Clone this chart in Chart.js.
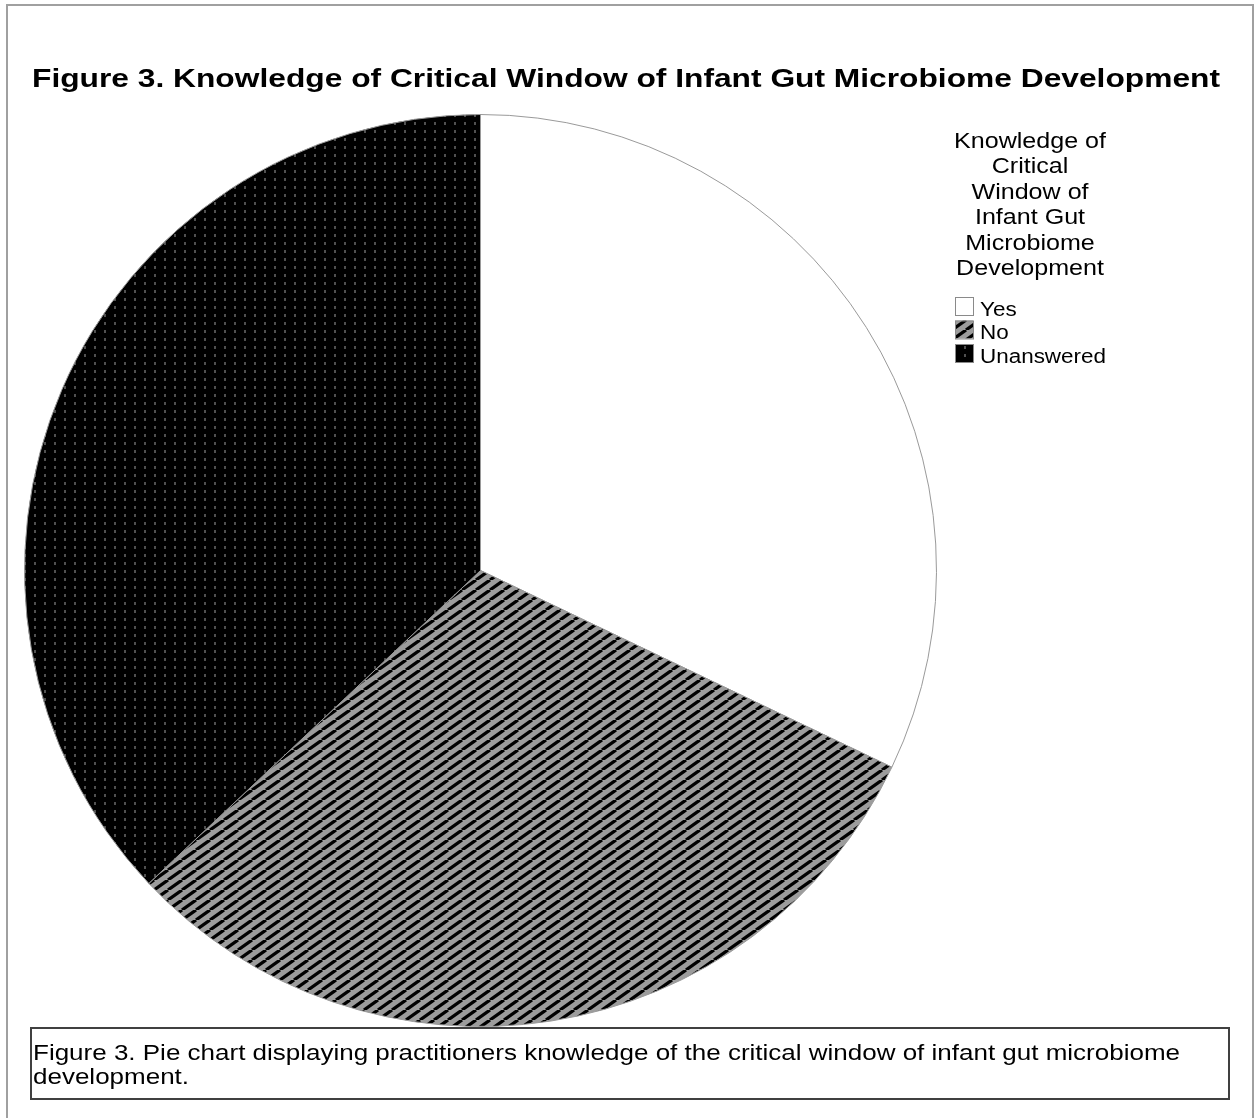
<!DOCTYPE html>
<html>
<head>
<meta charset="utf-8">
<title>Figure 3</title>
<script src="https://cdn.jsdelivr.net/npm/chart.js@4/dist/chart.umd.min.js"></script>
<style>
  html, body { margin: 0; padding: 0; background: #fff; overflow: hidden; }
  canvas { display: block; }
</style>
</head>
<body>
<canvas id="c" width="1259" height="1118"></canvas>
<script>
// ---- chart content ----
const chartTitle = 'Figure 3. Knowledge of Critical Window of Infant Gut Microbiome Development';
const legendTitleLines = ['Knowledge of', 'Critical', 'Window of', 'Infant Gut', 'Microbiome', 'Development'];
const categories = ['Yes', 'No', 'Unanswered'];
const respondents = [26, 25, 30];
const captionLines = [
  'Figure 3. Pie chart displaying practitioners knowledge of the critical window of infant gut microbiome',
  'development.'
];

const FONT = '"Liberation Sans", Arial, Helvetica, sans-serif';

// ---- fill patterns ----
function stripePattern(ctx) {
  const w = 14, h = 10;
  const t = document.createElement('canvas');
  t.width = w; t.height = h;
  const g = t.getContext('2d');
  g.fillStyle = '#9c9c9c';
  g.fillRect(0, 0, w, h);
  g.strokeStyle = '#000';
  g.lineWidth = 3.2;
  for (const x0 of [-w, 0, w]) {
    g.beginPath();
    g.moveTo(x0, h);
    g.lineTo(x0 + w, 0);
    g.stroke();
  }
  return ctx.createPattern(t, 'repeat');
}

function dotPattern(ctx) {
  const t = document.createElement('canvas');
  t.width = 10; t.height = 8;
  const g = t.getContext('2d');
  g.fillStyle = '#000';
  g.fillRect(0, 0, 10, 8);
  g.fillStyle = '#505050';
  g.fillRect(4, 2, 2, 3);
  return ctx.createPattern(t, 'repeat');
}

// Draws text stretched horizontally so that the wide face of the figure is kept.
function wideText(ctx, text, x, y, font, scaleX, align) {
  ctx.save();
  ctx.font = font;
  const w = ctx.measureText(text).width * scaleX;
  const left = align === 'center' ? x - w / 2 : x;
  ctx.translate(left, y);
  ctx.scale(scaleX, 1);
  ctx.textAlign = 'left';
  ctx.textBaseline = 'alphabetic';
  ctx.fillStyle = '#000';
  ctx.fillText(text, 0, 0);
  ctx.restore();
}

function widthOf(ctx, text, font) {
  ctx.save();
  ctx.font = font;
  const w = ctx.measureText(text).width;
  ctx.restore();
  return w;
}

const canvas = document.getElementById('c');
const ctx0 = canvas.getContext('2d');
const fills = ['#ffffff', stripePattern(ctx0), dotPattern(ctx0)];

// ---- page furniture: frame, title, legend, caption ----
const figurePlugin = {
  id: 'figureText',
  beforeDraw(chart) {
    const ctx = chart.ctx;
    ctx.save();
    ctx.fillStyle = '#fff';
    ctx.fillRect(0, 0, chart.width, chart.height);
    ctx.restore();
  },
  afterDraw(chart) {
    const ctx = chart.ctx;
    ctx.save();

    // outer frame
    ctx.strokeStyle = '#a0a0a0';
    ctx.lineWidth = 2;
    ctx.strokeRect(7, 5, 1246, 1140);

    // title
    const titleFont = 'bold 25px ' + FONT;
    const titleScale = 1188 / widthOf(ctx, chartTitle, titleFont);
    wideText(ctx, chartTitle, 32, 87, titleFont, titleScale, 'left');

    // legend title
    const lgFont = '22px ' + FONT;
    const lgScale = 152 / widthOf(ctx, legendTitleLines[0], lgFont);
    legendTitleLines.forEach((line, i) => {
      wideText(ctx, line, 1030, 148 + i * 25.4, lgFont, lgScale, 'center');
    });

    // legend items
    const itemFont = '19.5px ' + FONT;
    const itemScale = 126 / widthOf(ctx, 'Unanswered', itemFont);
    const ds = chart.data.datasets[0];
    chart.data.labels.forEach((label, i) => {
      const y = 297 + i * 23.5;
      ctx.fillStyle = ds.backgroundColor[i];
      ctx.fillRect(955, y, 18, 18);
      ctx.strokeStyle = '#8a8a8a';
      ctx.lineWidth = 1;
      ctx.strokeRect(955.5, y + 0.5, 18, 18);
      wideText(ctx, label, 980, y + 18.5, itemFont, itemScale, 'left');
    });

    // caption box
    ctx.fillStyle = '#fff';
    ctx.fillRect(31, 1028, 1198, 71);
    ctx.strokeStyle = '#404040';
    ctx.lineWidth = 2;
    ctx.strokeRect(31, 1028, 1198, 71);
    const capFont = '22px ' + FONT;
    const capScale = 1147 / widthOf(ctx, captionLines[0], capFont);
    captionLines.forEach((line, i) => {
      wideText(ctx, line, 33, 1060 + i * 24, capFont, capScale, 'left');
    });

    ctx.restore();
  }
};

new Chart(canvas, {
  type: 'pie',
  data: {
    labels: categories,
    datasets: [{
      data: respondents,
      backgroundColor: fills,
      borderColor: '#9a9a9a',
      borderWidth: 1
    }]
  },
  options: {
    responsive: false,
    animation: false,
    devicePixelRatio: 1,
    events: [],
    layout: { padding: { left: 24, top: 114, right: 322, bottom: 91 } },
    plugins: {
      legend: { display: false },
      title: { display: false },
      tooltip: { enabled: false }
    }
  },
  plugins: [figurePlugin]
});
</script>
</body>
</html>
